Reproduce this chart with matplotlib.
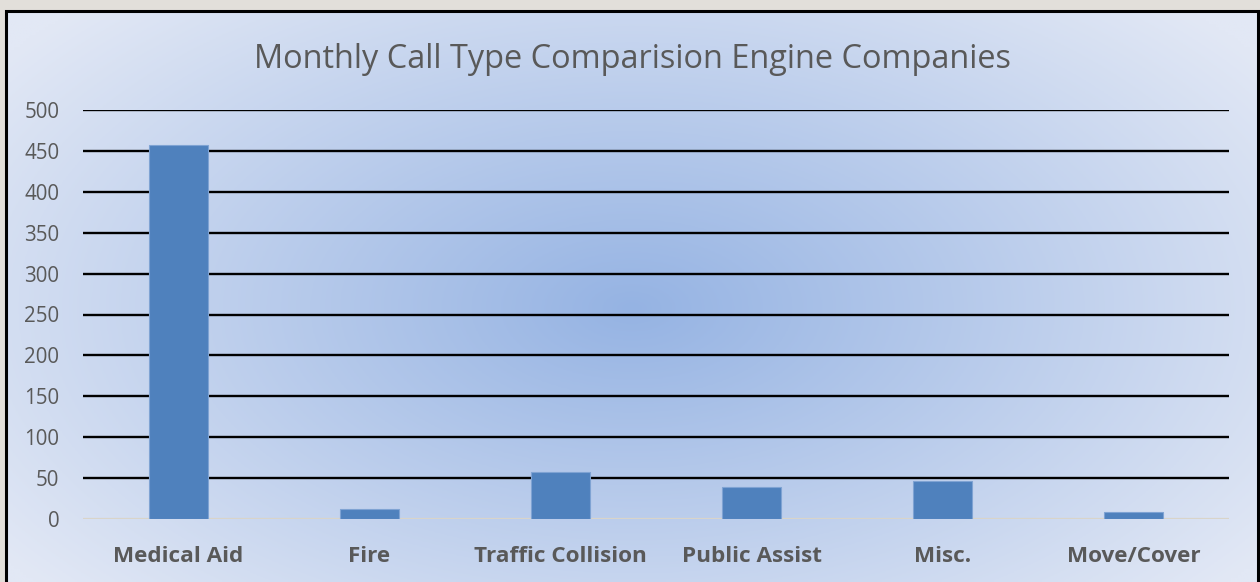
import numpy as np
import matplotlib
matplotlib.use("Agg")
import matplotlib.pyplot as plt
from matplotlib.patches import Rectangle

categories = ["Medical Aid", "Fire", "Traffic Collision", "Public Assist", "Misc.", "Move/Cover"]
values = [457, 12, 57, 39, 46, 8]
yticks = [0, 50, 100, 150, 200, 250, 300, 350, 400, 450, 500]
title = "Monthly Call Type Comparision Engine Companies"

W, H = 1260, 582
fig = plt.figure(figsize=(W / 100, H / 100), dpi=100)
fig.patch.set_facecolor("#e2dfda")

# chart area background with radial gradient
fx0, fy0 = 6, 11
bg = fig.add_axes([fx0 / W, 0, (W - 2 - fx0) / W, (H - fy0) / H])
bg.set_axis_off()
nx, ny = 400, 200
xx, yy = np.meshgrid(np.linspace(0, 1, nx), np.linspace(0, 1, ny))
cx, cy = 0.50, 0.52
r = np.sqrt(((xx - cx) / 0.62) ** 2 + ((yy - cy) / 0.75) ** 2)
r = np.clip(r, 0, 1)
c_in = np.array([0x95, 0xb3, 0xe3]) / 255
c_out = np.array([0xe2, 0xe8, 0xf5]) / 255
img = c_in[None, None, :] * (1 - r[..., None]) + c_out[None, None, :] * r[..., None]
bg.imshow(img, aspect="auto", extent=[0, 1, 0, 1], origin="upper")
bg.set_xlim(0, 1)
bg.set_ylim(0, 1)
bg.add_patch(Rectangle((0, -0.2), 1, 1.2, transform=bg.transAxes, fill=False,
                       edgecolor="black", linewidth=2.2, clip_on=False))

# main plot
ax = fig.add_axes([83 / W, (H - 519) / H, 1146 / W, 409 / H])
ax.patch.set_alpha(0)
x = np.arange(len(categories))
ax.bar(x, values, width=0.31, color="#4f81bd", edgecolor="#7fa3d3", linewidth=0.8, zorder=3)
ax.set_xlim(-0.5, len(categories) - 0.5)
ax.set_ylim(0, 500)
ax.set_yticks(yticks)
for t in yticks[1:]:
    ax.axhline(t, color="black", linewidth=1.7, zorder=2)
ax.axhline(0, color="#d9d4c9", linewidth=1.6, zorder=2)
for s in ax.spines.values():
    s.set_visible(False)
ax.tick_params(length=0)
ax.set_xticks(x)
ax.set_xticklabels(categories, fontsize=16.2, fontweight="bold", color="#595959", family="Open Sans")
for lbl in ax.get_yticklabels():
    lbl.set_fontsize(14.8)
    lbl.set_color("#595959")
    lbl.set_family("Open Sans")
ax.tick_params(axis="x", pad=19.5)
ax.tick_params(axis="y", pad=17)

fig.text(632 / W, 1 - 60 / H, title, ha="center", va="center", fontsize=23.4,
         color="#595959", family="Open Sans")

fig.savefig("out.png", dpi=100, facecolor=fig.get_facecolor())
